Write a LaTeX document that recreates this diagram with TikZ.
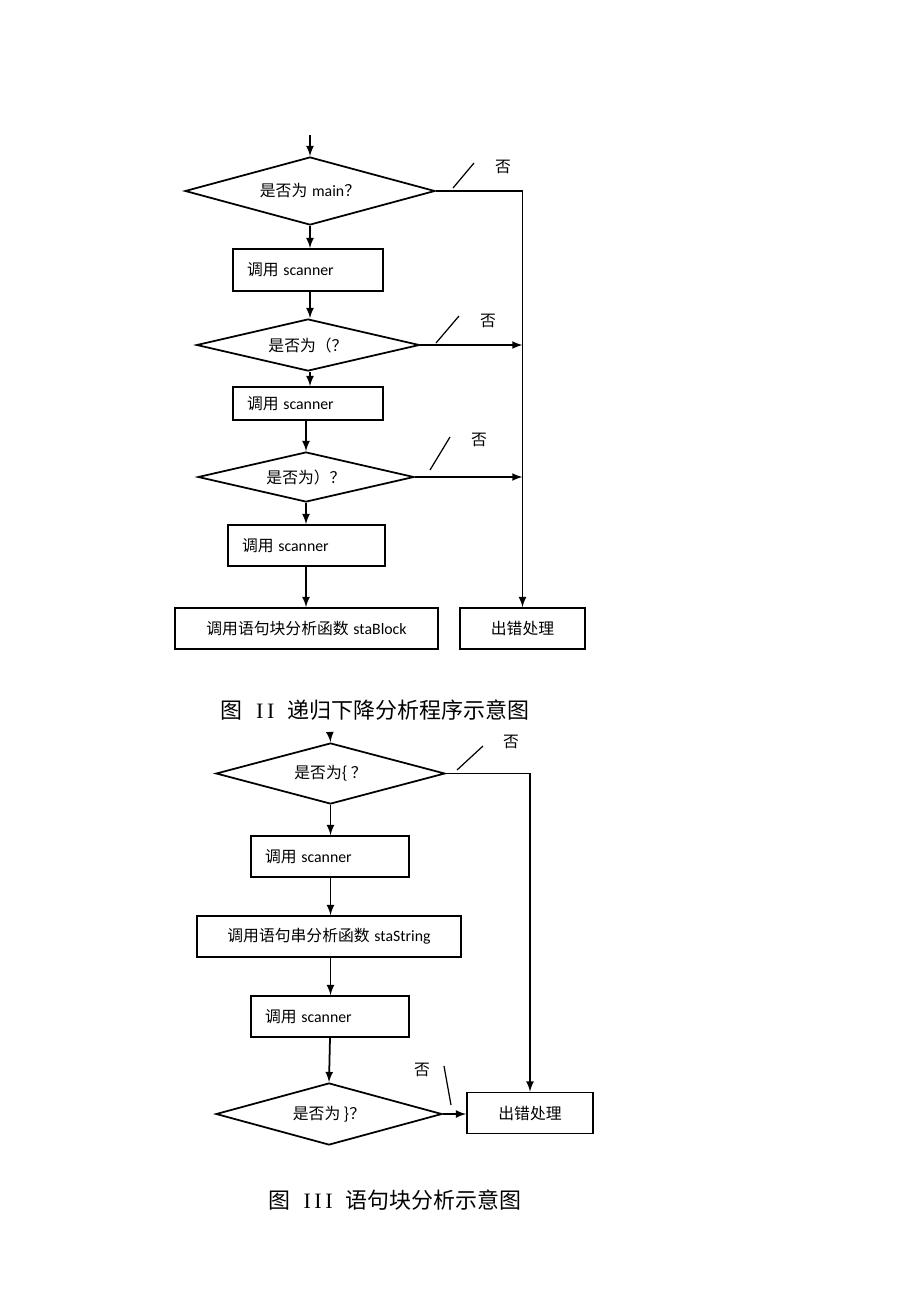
\documentclass[tikz,border=0pt]{standalone}
\usepackage{fontspec}
\setmainfont{Carlito}
\newfontfamily\cjk{Noto Sans CJK SC}
\newfontfamily\capserif{Liberation Serif}
\usetikzlibrary{shapes.geometric}

\begin{document}
\begin{tikzpicture}[
	x=0.02cm, y=-0.02cm,
	line width=1pt,
	font=\fontsize{9}{11}\selectfont,
	decision/.style = {draw, diamond, aspect=4, inner sep=0pt},
	callbox/.style = {draw, rectangle, align=left, inner xsep=0.28cm, inner ysep=0pt},
	wide/.style = {draw, rectangle, align=center, inner sep=0pt},
	no/.style = {font=\fontsize{9}{11}\selectfont\cjk},
	caption/.style = {font=\fontsize{12.5}{15}\selectfont},
	]
	\useasboundingbox (0,0) rectangle (920,1302);

	% figure II
	\coordinate (startA) at (310,135);
	\node[decision, minimum width=5cm, minimum height=1.36cm] (isMain) at (310,191) {{\cjk 是否为}\hspace{0.3em}main{\cjk ？}};
	\node[callbox, text width=2.44cm, minimum height=0.84cm] (scanA) at (308,270) {{\cjk 调用}\hspace{0.3em}scanner};
	\node[decision, minimum width=4.46cm, minimum height=1.04cm] (isLparen) at (308,345) {{\cjk 是否为（？}};
	\node[callbox, text width=2.44cm, minimum height=0.66cm] (scanB) at (308,403.5) {{\cjk 调用}\hspace{0.3em}scanner};
	\node[decision, minimum width=4.32cm, minimum height=1cm] (isRparen) at (306,477) {{\cjk 是否为）？}};
	\node[callbox, text width=2.58cm, minimum height=0.82cm] (scanC) at (306.5,545.5) {{\cjk 调用}\hspace{0.3em}scanner};
	\node[wide, minimum width=5.26cm, minimum height=0.82cm] (block) at (306.5,628.5) {{\cjk 调用语句块分析函数}\hspace{0.3em}staBlock};
	\node[wide, minimum width=2.5cm, minimum height=0.82cm] (errA) at (522.5,628.5) {\cjk 出错处理};

	\draw[-latex] (startA) -- (isMain.north);
	\draw[-latex] (isMain.south) -- (scanA.north -| isMain.south);
	\draw[-latex] (scanA.south -| isMain.south) -- (isLparen.north -| isMain.south);
	\draw[-latex] (isLparen.south -| isMain.south) -- (scanB.north -| isMain.south);
	\draw[-latex] (scanB.south -| isRparen.north) -- (isRparen.north);
	\draw[-latex] (isRparen.south) -- (scanC.north -| isRparen.south);
	\draw[-latex] (scanC.south -| isRparen.south) -- (block.north -| isRparen.south);
	\draw[-latex] (isMain.east) -| (errA.north);
	\coordinate (joinB) at (errA.north |- isLparen.east);
	\coordinate (joinC) at (errA.north |- isRparen.east);
	\draw[-latex] (isLparen.east) -- (joinB);
	\draw[-latex] (isRparen.east) -- (joinC);

	% "no" marks
	\draw[line width=0.7pt] (453,188) -- (474,163);
	\node[no] (noA) at (503,167) {否};
	\draw[line width=0.7pt] (436,343) -- (459,316);
	\node[no] (noB) at (488,321) {否};
	\draw[line width=0.7pt] (430,470) -- (450,437);
	\node[no] (noC) at (479,440) {否};

	\node[caption] (capA) at (375,710) {{\cjk 图}\hspace{0.6em}{\capserif I\,I}\hspace{0.6em}{\cjk 递归下降分析程序示意图}};

	% figure III
	\coordinate (startB) at (330,734);
	\node[decision, minimum width=4.58cm, minimum height=1.22cm] (isLbrace) at (330.5,773.5) {{\cjk 是否为\{ ？}};
	\node[callbox, text width=2.6cm, minimum height=0.82cm] (scanD) at (330,856.5) {{\cjk 调用}\hspace{0.3em}scanner};
	\node[wide, minimum width=5.28cm, minimum height=0.82cm] (strCall) at (329,936.5) {{\cjk 调用语句串分析函数}\hspace{0.3em}staString};
	\node[callbox, text width=2.6cm, minimum height=0.82cm] (scanE) at (330,1016.5) {{\cjk 调用}\hspace{0.3em}scanner};
	\node[decision, minimum width=4.52cm, minimum height=1.24cm] (isRbrace) at (329,1114) {{\cjk 是否为 \}？}};
	\node[wide, minimum width=2.52cm, minimum height=0.82cm] (errB) at (530,1113) {\cjk 出错处理};

	\draw[-latex] (startB) -- (isLbrace.north);
	\draw[-latex] (isLbrace.south) -- (scanD.north -| isLbrace.south);
	\draw[-latex] (scanD.south -| isLbrace.south) -- (strCall.north -| isLbrace.south);
	\draw[-latex] (strCall.south -| isLbrace.south) -- (scanE.north -| isLbrace.south);
	\draw[-latex] (scanE.south) -- (isRbrace.north);
	\draw[-latex] (isLbrace.east) -| (errB.north);
	\draw[-latex] (isRbrace.east) -- (errB.west |- isRbrace.east);

	\draw[line width=0.7pt] (457,770) -- (483,746);
	\node[no] (noD) at (511,742) {否};
	\draw[line width=0.7pt] (444,1066) -- (451,1105);
	\node[no] (noE) at (422,1070) {否};

	\node[caption] (capB) at (395,1200) {{\cjk 图}\hspace{0.6em}{\capserif I\,I\,I}\hspace{0.6em}{\cjk 语句块分析示意图}};
\end{tikzpicture}
\end{document}
